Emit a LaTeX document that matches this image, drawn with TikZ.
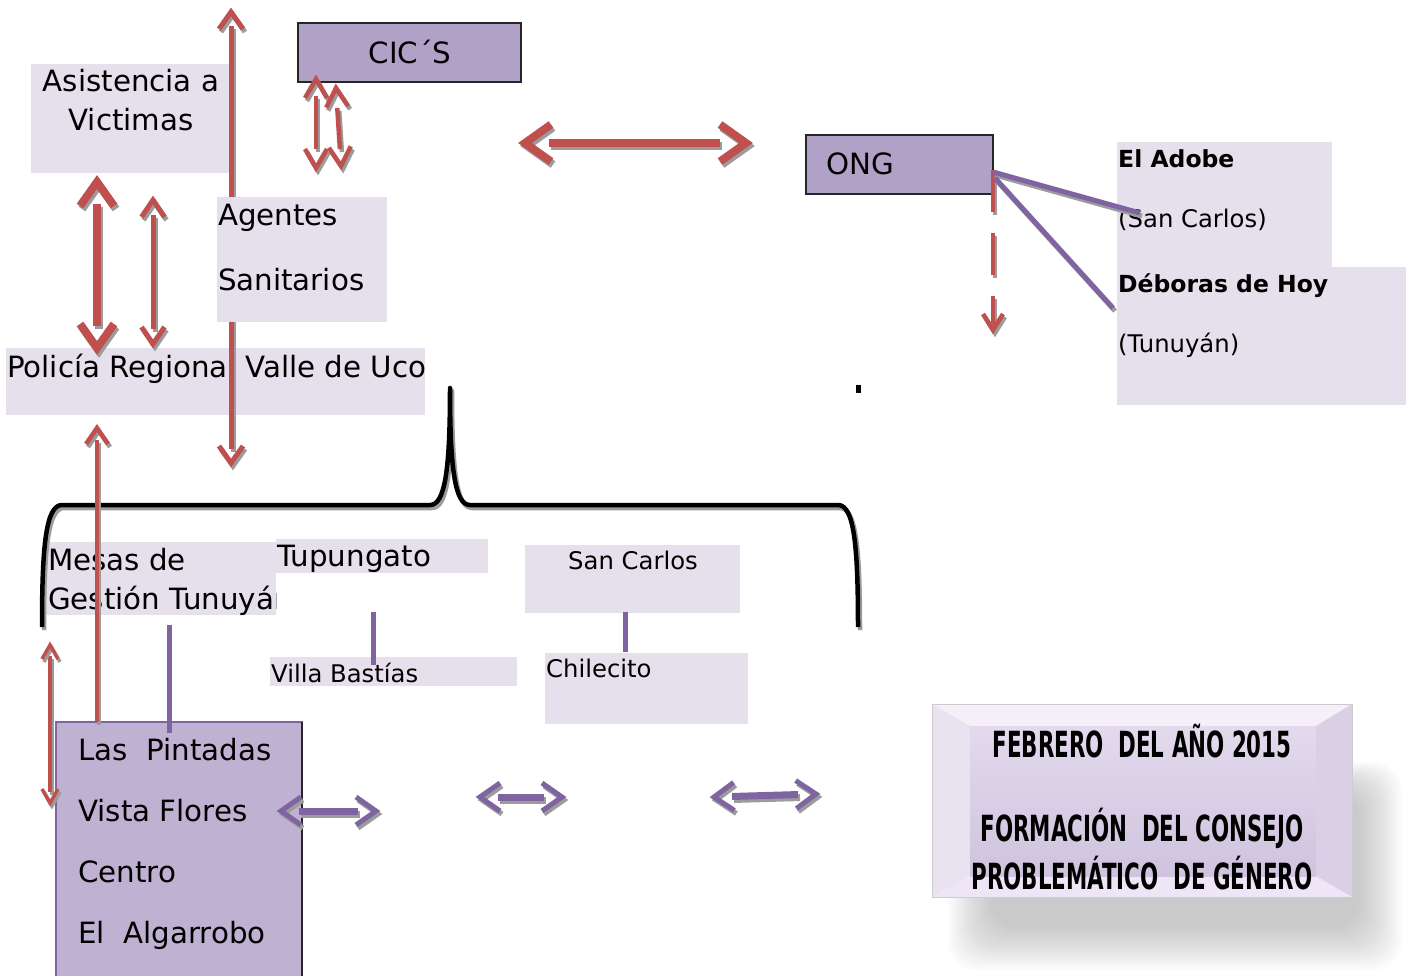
\documentclass[tikz,border=0pt]{standalone}
\usepackage{fontspec}
\usepackage{graphicx}
\setmainfont{DejaVu Sans}
\newfontfamily\condfont{DejaVu Sans Condensed}
\usetikzlibrary{arrows.meta}
\definecolor{redc}{HTML}{C0504D}
\definecolor{purc}{HTML}{8064A2}
\definecolor{lav}{HTML}{E5E0EC}
\definecolor{pbox}{HTML}{B2A1C7}
\definecolor{pbox2}{HTML}{BEB1D2}
\definecolor{shg}{HTML}{9C9C9C}
\definecolor{bvtop}{HTML}{F4EFF9}
\definecolor{bvleft}{HTML}{E9E2F1}
\definecolor{bvbot}{HTML}{EEE6F6}
\definecolor{bvright}{HTML}{DAD0E6}
\definecolor{facetop}{HTML}{E3DAED}
\definecolor{facebot}{HTML}{CFC3DE}
% path with a grey shadow copy
\newcommand\shdraw[2]{%
  \draw[#1,draw=shg,transform canvas={shift={(2pt,-3pt)}}] #2;
  \draw[#1] #2;}
% chevron head with shadow: #1 options, #2 coordinate name, #3 angle, #4 width, #5 depth
\newcommand\chev[5]{%
  \pic[#1, rotate=#3, color=shg] at ([xshift=2pt,yshift=-3pt]#2) {chevron={#4}{#5}};
  \pic[#1, rotate=#3] at (#2) {chevron={#4}{#5}};}
\begin{document}
\begin{tikzpicture}[x=1pt,y=-1pt,
  pics/chevron/.style 2 args={code={\draw[line cap=butt, miter limit=10] (-#2,-#1/2) -- (0,0) -- (-#2,#1/2);}},
  lbox/.style={fill=lav, draw=none, inner sep=0pt, outer sep=0pt, anchor=north west},
  pubox/.style={fill=pbox, draw=black!85, line width=1.2pt, inner sep=0pt, outer sep=0pt, anchor=north west},
  txt/.style={inner sep=0pt, anchor=base west, font=\fontsize{29.3}{34}\selectfont},
  stxt/.style={inner sep=0pt, anchor=base west, font=\fontsize{24.3}{29}\selectfont},
  btxt/.style={inner sep=0pt, anchor=base west, font=\fontsize{23.5}{29}\selectfont\bfseries},
  ftxt/.style={inner sep=0pt, anchor=base, font=\condfont\bfseries\fontsize{36}{40}\selectfont},
  redshaft/.style={draw=redc, line width=#1},
  redhead/.style={color=redc, line width=#1},
  purshaft/.style={draw=purc, line width=7pt},
  purhead/.style={color=purc, line width=5pt},
  purline/.style={draw=purc, line width=5pt},
  bracecurve/.style={draw=black, line width=4.5pt, line join=round}
]
\useasboundingbox (0,0) rectangle (1406,975);

% ---------- bottom right bevelled box with shadow ----------
\foreach \i in {0,...,14}{
  \fill[black, opacity=0.016, rounded corners=28pt]
    (948+\i*3, 762+\i*2) rectangle (1402-\i*3, 970-\i*3);
}
\node[inner sep=0pt, outer sep=0pt, minimum width=420pt, minimum height=193pt, anchor=north west, draw=black!20, line width=0.8pt, fill=white] (febrero) at (932,704) {};
\fill[bvtop] (932,704) -- (1352,704) -- (1316,726) -- (970,726) -- cycle;
\fill[bvleft] (932,704) -- (970,726) -- (970,876) -- (932,897) -- cycle;
\fill[bvbot] (932,897) -- (970,876) -- (1316,876) -- (1352,897) -- cycle;
\fill[bvright] (1352,704) -- (1316,726) -- (1316,876) -- (1352,897) -- cycle;
\shade[top color=facetop, bottom color=facebot] (970,726) rectangle (1316,876);
\draw[black!20, line width=0.8pt] (932,704) rectangle (1352,897);
\node[ftxt] (feb1) at (1142,757) {\scalebox{0.66}[1]{FEBRERO\ \ DEL AÑO 2015}};
\node[ftxt] (feb2) at (1142,841) {\scalebox{0.66}[1]{FORMACIÓN\ \ DEL CONSEJO}};
\node[ftxt] (feb3) at (1142,889) {\scalebox{0.66}[1]{PROBLEMÁTICO\ \ DE GÉNERO}};

% ---------- light boxes ----------
\node[lbox, minimum width=200pt, minimum height=109pt] (asis) at (31,64) {};
\node[txt, anchor=base] (asis1) at (131,91) {Asistencia a};
\node[txt, anchor=base] (asis2) at (131,130) {Victimas};

\node[lbox, minimum width=419pt, minimum height=67pt] (policia) at (6,348) {};
\node[txt] (policiat) at (7,377) {Policía Regional Valle de Uco};

\node[lbox, minimum width=215pt, minimum height=128pt] (adobe) at (1117,142) {};
\node[lbox, minimum width=289pt, minimum height=138pt] (deboras) at (1117,267) {};
\node[btxt] (adobe1) at (1118,167) {El Adobe};
\node[stxt] (adobe2) at (1118,227) {(San Carlos)};
\node[btxt] (deboras1) at (1118,292) {Déboras de Hoy};
\node[stxt] (deboras2) at (1118,352) {(Tunuyán)};

\node[lbox, minimum width=230pt, minimum height=73pt] (mesas) at (46,542) {};
\begin{scope}
  \clip (46,530) rectangle (276,620);
  \node[txt] (mesas1) at (48,570) {Mesas de};
  \node[txt] (mesas2) at (48,609) {Gestión Tunuyán};
\end{scope}
\node[lbox, minimum width=212pt, minimum height=34pt] (tupungato) at (276,539) {};
\node[txt] (tupungatot) at (277,566) {Tupungato};
\node[lbox, minimum width=215pt, minimum height=68pt] (sancarlos) at (525,545) {};
\node[stxt, anchor=base] (sancarlost) at (633,569) {San Carlos};
\node[lbox, minimum width=247pt, minimum height=29pt] (villa) at (270,657) {};
\node[stxt] (villat) at (271,682) {Villa Bastías};
\node[lbox, minimum width=203pt, minimum height=71pt] (chilecito) at (545,653) {};
\node[stxt] (chilecitot) at (546,677) {Chilecito};

% ---------- long red arrow (over Policia, under Agentes) ----------
\coordinate (l1a) at (231,12);
\coordinate (l1b) at (231,463);
\shdraw{redshaft=5pt, shorten <=14pt, shorten >=14pt}{(l1a) -- (l1b)}
\chev{redhead=5pt}{l1a}{90}{24}{17}
\chev{redhead=5pt}{l1b}{-90}{24}{17}

\node[lbox, minimum width=170pt, minimum height=125pt] (agentes) at (217,197) {};
\node[txt] (agentes1) at (218,225) {Agentes};
\node[txt] (agentes2) at (218,290) {Sanitarios};

% ---------- purple boxes ----------
\node[pubox, minimum width=223pt, minimum height=59pt] (cics) at (298,23) {};
\node[txt, anchor=base] (cicst) at (410,63) {CIC´S};
\node[pubox, minimum width=187pt, minimum height=59pt] (ong) at (806,135) {};
\node[txt] (ongt) at (826,174) {ONG};

% small dot
\fill[black] (856,385) rectangle (861,393);

% ---------- red arrows ----------
\coordinate (t1a) at (97,182);  \coordinate (t1b) at (97,348);
\shdraw{redshaft=8pt, shorten <=22pt, shorten >=22pt}{(t1a) -- (t1b)}
\chev{redhead=8pt}{t1a}{90}{34}{24}
\chev{redhead=8pt}{t1b}{-90}{34}{24}

\coordinate (t2a) at (153,200); \coordinate (t2b) at (153,344);
\shdraw{redshaft=5pt, shorten <=15pt, shorten >=15pt}{(t2a) -- (t2b)}
\chev{redhead=5pt}{t2a}{90}{23}{17}
\chev{redhead=5pt}{t2b}{-90}{23}{17}

\coordinate (c1a) at (316,79);  \coordinate (c1b) at (316,168);
\shdraw{redshaft=4.5pt, shorten <=17pt, shorten >=19pt}{(c1a) -- (c1b)}
\chev{redhead=4.5pt}{c1a}{90}{22}{19}
\chev{redhead=4.5pt}{c1b}{-90}{22}{19}

\coordinate (c2a) at (336,88);  \coordinate (c2b) at (341,166);
\shdraw{redshaft=4.5pt, shorten <=20pt, shorten >=17pt}{(c2a) -- (c2b)}
\chev{redhead=4.5pt}{c2a}{93.7}{22}{19}
\chev{redhead=4.5pt}{c2b}{-86.3}{22}{19}

\coordinate (h1a) at (525,143); \coordinate (h1b) at (746,143);
\shdraw{redshaft=8pt, shorten <=24pt, shorten >=26pt}{(h1a) -- (h1b)}
\chev{redhead=8pt}{h1a}{180}{37}{26}
\chev{redhead=8pt}{h1b}{0}{37}{26}

\coordinate (o1a) at (993,170); \coordinate (o1b) at (993,330);
\shdraw{redshaft=4.5pt, dash pattern=on 42pt off 21pt}{(o1a) -- (o1b)}
\chev{redhead=4.5pt}{o1b}{-90}{20}{16}

% ---------- ONG purple links ----------
\coordinate (g1a) at (993,172); \coordinate (g1b) at (1140,213);
\coordinate (g2a) at (995,178); \coordinate (g2b) at (1113,308);
\shdraw{purline}{(g1a) -- (g1b)}
\shdraw{purline}{(g2a) -- (g2b)}

% ---------- brace ----------
\coordinate (brl) at (42,627);
\coordinate (brp) at (450,388);
\coordinate (brr) at (858,627);
\shdraw{bracecurve}{(brl) .. controls (42,545) and (46,505) .. (62,505) -- (430,505) .. controls (445,505) and (450,470) .. (brp) .. controls (450,470) and (455,505) .. (470,505) -- (838,505) .. controls (854,505) and (858,545) .. (brr)}

% ---------- Las Pintadas box ----------
\node[inner sep=0pt, outer sep=0pt, anchor=north west, fill=pbox2, draw=purc, line width=2pt, minimum width=246pt, minimum height=260pt] (pintadas) at (56,722) {};
\draw[black!85, line width=2pt] (302,722) -- (302,982);
\node[txt] (pint1) at (78,760) {Las\ \ Pintadas};
\node[txt] (pint2) at (78,821) {Vista Flores};
\node[txt] (pint3) at (78,882) {Centro};
\node[txt] (pint4) at (78,943) {El\ \ Algarrobo};

% ---------- purple connectors ----------
\coordinate (v1a) at (169,625); \coordinate (v1b) at (169,733);
\draw[purline] (v1a) -- (v1b);
\coordinate (v2a) at (373,612); \coordinate (v2b) at (373,665);
\draw[purline] (v2a) -- (v2b);
\coordinate (v3a) at (625,612); \coordinate (v3b) at (625,652);
\draw[purline] (v3a) -- (v3b);

\coordinate (p1a) at (281,811); \coordinate (p1b) at (376,811);
\shdraw{purshaft, shorten <=18pt, shorten >=18pt}{(p1a) -- (p1b)}
\chev{purhead}{p1a}{180}{28}{20}
\chev{purhead}{p1b}{0}{28}{20}
\coordinate (p2a) at (480,797); \coordinate (p2b) at (562,797);
\shdraw{purshaft, shorten <=18pt, shorten >=18pt}{(p2a) -- (p2b)}
\chev{purhead}{p2a}{180}{28}{20}
\chev{purhead}{p2b}{0}{28}{20}
\coordinate (p3a) at (714,797); \coordinate (p3b) at (816,794);
\shdraw{purshaft, shorten <=18pt, shorten >=18pt}{(p3a) -- (p3b)}
\chev{purhead}{p3a}{181.6}{28}{20}
\chev{purhead}{p3b}{1.6}{28}{20}

% ---------- lower red arrows ----------
\coordinate (u1a) at (97,722); \coordinate (u1b) at (97,428);
\shdraw{redshaft=4.5pt, shorten >=12pt}{(u1a) -- (u1b)}
\chev{redhead=4.5pt}{u1b}{90}{22}{16}
\coordinate (s1a) at (50,645); \coordinate (s1b) at (50,803);
\shdraw{redshaft=3.5pt, shorten <=11pt, shorten >=11pt}{(s1a) -- (s1b)}
\chev{redhead=3.5pt}{s1a}{90}{16}{14}
\chev{redhead=3.5pt}{s1b}{-90}{16}{14}

\end{tikzpicture}
\end{document}
